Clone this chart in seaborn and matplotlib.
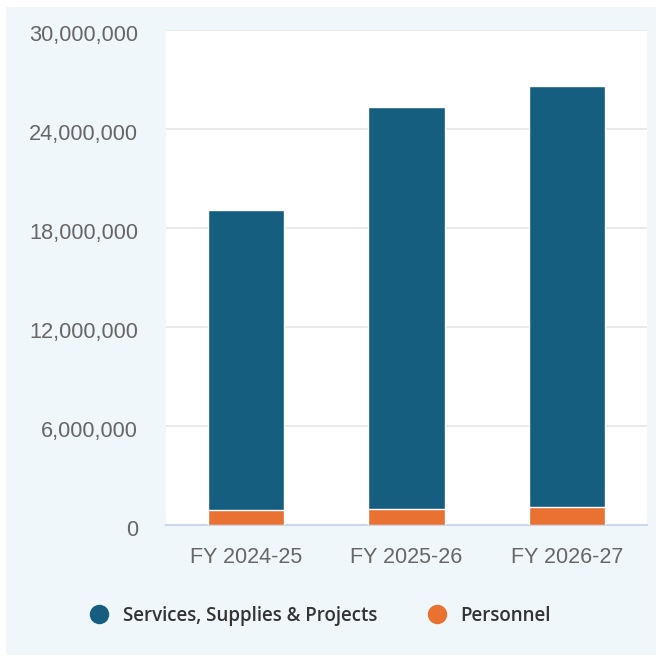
import matplotlib
matplotlib.use("Agg")
import matplotlib.pyplot as plt
from matplotlib.patches import Rectangle
from matplotlib.lines import Line2D
from matplotlib.ticker import FuncFormatter, MultipleLocator
from matplotlib.transforms import ScaledTranslation
import seaborn as sns
import pandas as pd

# Budget by fiscal year
years = ["FY 2024-25", "FY 2025-26", "FY 2026-27"]
services = [18200000, 24350000, 25500000]
personnel = [880000, 970000, 1100000]

series_names = ["Services, Supplies & Projects", "Personnel"]
navy = "#155e80"
orange = "#e97132"
panel_bg = "#f0f7fb"

df = pd.DataFrame({"year": years, "services": services, "personnel": personnel})
df["total"] = df["services"] + df["personnel"]

sns.set_theme(style="white")
plt.rcParams["font.family"] = ["Liberation Sans", "DejaVu Sans"]

fig = plt.figure(figsize=(6.6, 6.62), dpi=100)
fig.patch.set_facecolor("white")
fig.patches.append(Rectangle((6 / 660, 1 - 655 / 662), 650 / 660, 648 / 662,
                             transform=fig.transFigure, facecolor=panel_bg,
                             edgecolor="none", zorder=-10))

ax = fig.add_axes([166 / 660, 1 - 525 / 662, 481 / 660, 495 / 662])
ax.set_facecolor("white")

# Stacked bars: full height first, personnel drawn over the base
sns.barplot(data=df, x="year", y="total", color=navy, width=0.475,
            edgecolor="white", linewidth=1, saturation=1, ax=ax, zorder=3)
sns.barplot(data=df, x="year", y="personnel", color=orange, width=0.475,
            edgecolor="white", linewidth=1, saturation=1, ax=ax, zorder=4)

ax.set_ylim(0, 30000000)
ax.yaxis.set_major_locator(MultipleLocator(6000000))
ax.yaxis.set_major_formatter(FuncFormatter(lambda v, p: f"{int(v):,}"))
ax.grid(axis="y", color="#e6e6e6", linewidth=1.2, zorder=0)
ax.set_axisbelow(True)
ax.set_xlabel("")
ax.set_ylabel("")

for s in ["left", "right", "top"]:
    ax.spines[s].set_visible(False)
ax.spines["bottom"].set_color("#ccd6eb")
ax.spines["bottom"].set_linewidth(1.5)

ax.tick_params(axis="y", length=0, pad=20, labelsize=15.7, labelcolor="#666666")
ax.tick_params(axis="x", length=0, pad=16, labelsize=15.5, labelcolor="#666666")

# nudge the value labels slightly below their gridlines
shift = ScaledTranslation(0, -3 / 100, fig.dpi_scale_trans)
for lbl in ax.get_yticklabels():
    lbl.set_transform(lbl.get_transform() + shift)

handles = [Line2D([], [], marker="o", linestyle="none", markersize=14,
                  markerfacecolor=c, markeredgecolor="none")
           for c in (navy, orange)]
leg = fig.legend(handles, series_names, loc="center",
                 bbox_to_anchor=(315.5 / 660, 1 - 616 / 662), ncol=2,
                 frameon=False, handletextpad=0.25, columnspacing=2.17,
                 prop={"family": "Open Sans", "weight": "semibold", "size": 13.5})
for t in leg.get_texts():
    t.set_color("#333333")

fig.savefig("out.png", dpi=100, facecolor=fig.get_facecolor())
